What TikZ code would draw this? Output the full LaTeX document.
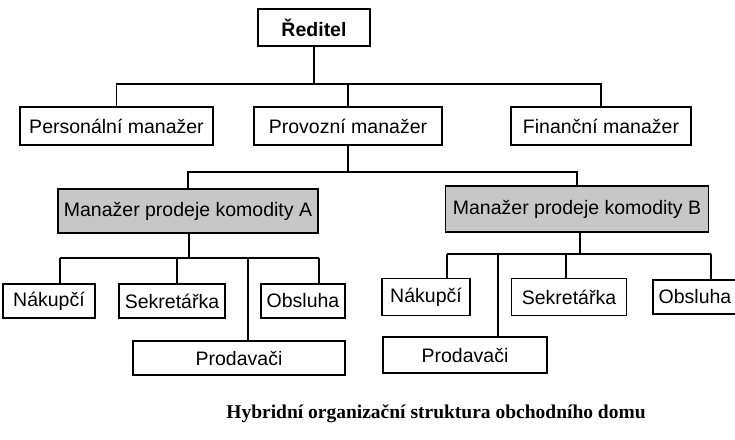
\documentclass[tikz,border=0pt]{standalone}
\usepackage{fontspec}
\setmainfont{Liberation Sans}
\newfontfamily\capfont{Liberation Serif}
\begin{document}
\begin{tikzpicture}[x=1pt,y=-1pt,line width=1.4pt,
  bx/.style={draw,font=\fontsize{19.5}{23}\selectfont,inner sep=0pt},
  gbx/.style={bx,fill=black!22}]
\useasboundingbox (0,0) rectangle (735,439);
\node[bx,minimum width=112,minimum height=37] (r) at (314,27.5) {\textbf{Ředitel}};
\node[bx,minimum width=193,minimum height=38] (p) at (116.5,126) {Personální manažer};
\node[bx,minimum width=188,minimum height=38] (v) at (348,126) {Provozní manažer};
\node[bx,minimum width=180,minimum height=38] (f) at (601,126) {Finanční manažer};
\node[gbx,minimum width=260,minimum height=44] (a) at (188,211) {Manažer prodeje komodity A};
\node[gbx,minimum width=263,minimum height=46] (b) at (577,209) {Manažer prodeje komodity B};
\node[bx,minimum width=92,minimum height=34] (an) at (49,301) {Nákupčí};
\node[bx,minimum width=106,minimum height=34] (as) at (172,301) {Sekretářka};
\node[bx,minimum width=84,minimum height=34] (ao) at (303,301) {Obsluha};
\node[bx,minimum width=212,minimum height=34] (ap) at (239,358) {Prodavači};
\node[bx,minimum width=88,minimum height=37] (bn) at (426,297) {Nákupčí};
\node[bx,minimum width=115,minimum height=37] (bs) at (569,297) {Sekretářka};
\node[bx,minimum width=84,minimum height=34] (bo) at (695,297) {Obsluha};
\node[bx,minimum width=164,minimum height=36] (bp) at (465,355) {Prodavači};
\coordinate (h1) at (314,84);
\draw (r.south) -- (h1);
\draw (p.north) |- (h1) -| (f.north);
\draw (v.north) -- (v.north |- h1);
\coordinate (h2) at (348,172);
\draw (v.south) -- (h2);
\draw (a.north) |- (h2) -| (b.north);
\coordinate (h3) at (189,258);
\draw (a.south -| h3) -- (h3);
\draw (60,258) coordinate (l3) -- (319,258) coordinate (r3);
\draw (l3) -- (l3 |- an.north);
\draw (177,258) -- (177,284);
\draw (r3) -- (r3 |- ao.north);
\draw (248,258) -- (248,341);
\coordinate (h4) at (580,254);
\draw (b.south -| h4) -- (h4);
\draw (447,254) coordinate (l4) -- (711,254) coordinate (r4);
\draw (l4) -- (447,278.5);
\draw (566,254) -- (566,278.5);
\draw (r4) -- (711,280);
\draw (498,254) -- (498,337);
\node[font=\capfont\bfseries\fontsize{19.5}{22}\selectfont] (c) at (436,414) {Hybridní organizační struktura obchodního domu};
\end{tikzpicture}
\end{document}
